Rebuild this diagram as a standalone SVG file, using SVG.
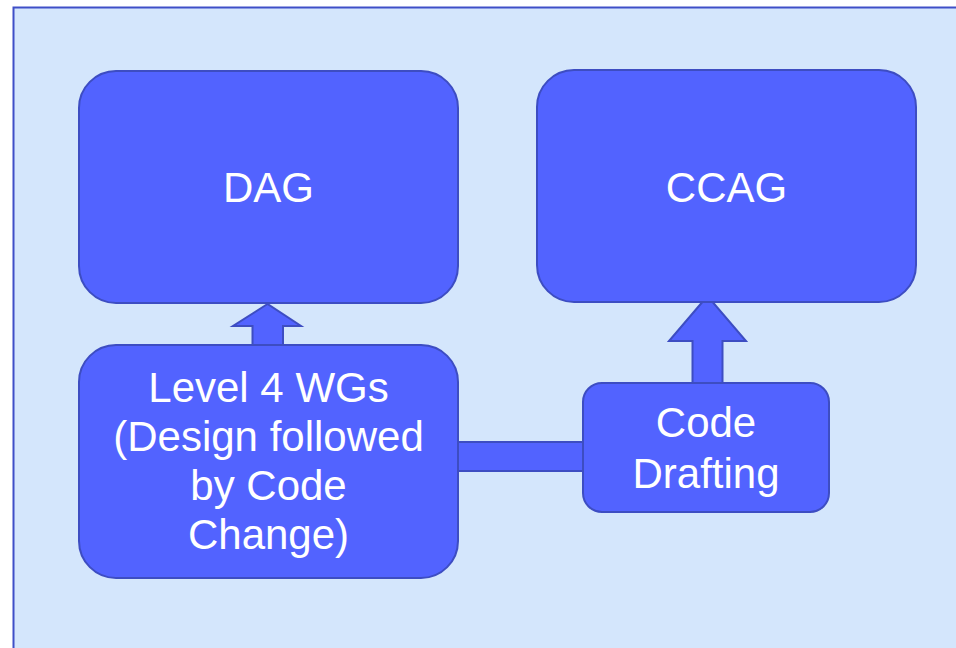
<svg xmlns="http://www.w3.org/2000/svg" width="956" height="648" viewBox="0 0 956 648">
<style>
.bg{fill:#D4E6FC;stroke:#3F4FC7;stroke-width:2}
.box{fill:#5263FF;stroke:#3D4DC2;stroke-width:2}
.conn{fill:#5263FF;stroke:#3D4DC2;stroke-width:2;stroke-linejoin:miter}
.t{font-family:"Liberation Sans",Arial,sans-serif;font-size:42px;fill:#FFFFFF;text-anchor:middle}
</style>
<rect class="bg" x="13.5" y="7.5" width="960" height="660"/>
<g id="connectors">
<polygon class="conn" points="267.5,304 233,326 252.5,326 252.5,345 283,345 283,326 301,326"/>
<polygon class="conn" points="707.5,296 669,341 692.5,341 692.5,383 722.5,383 722.5,341 746,341"/>
<rect class="conn" x="457" y="442" width="126" height="29"/>
</g>
<g id="dag">
<rect class="box" x="79" y="71" width="379" height="232" rx="37"/>
<text class="t" x="268.5" y="202">DAG</text>
</g>
<g id="ccag">
<rect class="box" x="537" y="70" width="379" height="232" rx="37"/>
<text class="t" x="726.5" y="202">CCAG</text>
</g>
<g id="level4">
<rect class="box" x="79" y="345" width="379" height="233" rx="37"/>
<text class="t" x="268.5" y="402">Level 4 WGs</text>
<text class="t" x="268.5" y="451">(Design followed</text>
<text class="t" x="268.5" y="500">by Code</text>
<text class="t" x="268.5" y="549">Change)</text>
</g>
<g id="drafting">
<rect class="box" x="583" y="383" width="246" height="129" rx="19"/>
<text class="t" x="706" y="437">Code</text>
<text class="t" x="706" y="488">Drafting</text>
</g>
</svg>
